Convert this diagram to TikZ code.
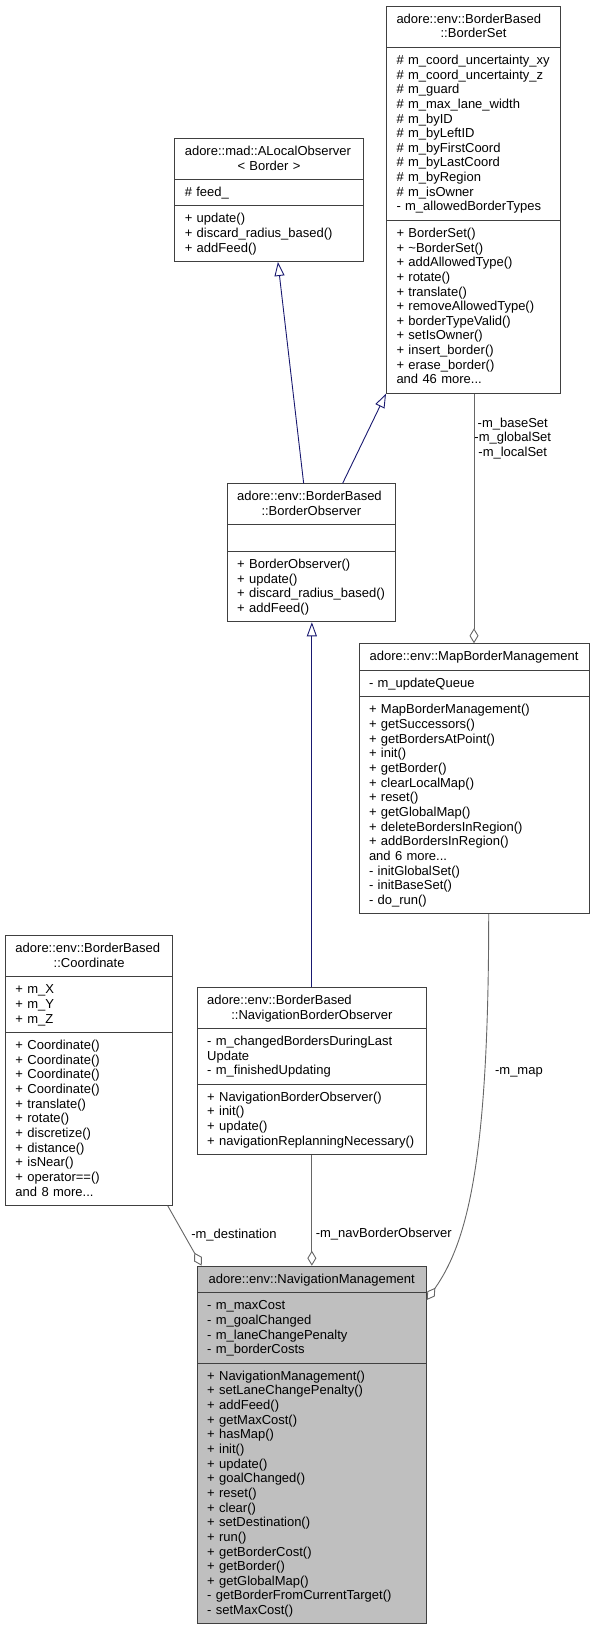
\documentclass[tikz,border=0pt]{standalone}
\usepackage{fontspec}
\setmainfont{Liberation Sans}
\usetikzlibrary{shapes.multipart,arrows.meta}
\definecolor{inhblue}{HTML}{191970}
\definecolor{edgegray}{HTML}{666666}
\definecolor{boxgray}{HTML}{BFBFBF}
\newcommand{\rs}{\rule[-3.4pt]{0pt}{14.65pt}}
\newcommand{\ctr}[1]{\makebox[\linewidth]{#1}}
\begin{document}
\begin{tikzpicture}[x=1pt, y=-1pt,
  classbox/.style={draw=black!75, line width=1pt, rectangle split, rectangle split parts=3,
    anchor=north west, inner xsep=10pt, inner ysep=5.4pt, align=left,
    font=\fontsize{13}{14.65}\selectfont},
  inherit/.style={draw=inhblue, line width=.9pt, -{Triangle[open,length=14pt,width=10pt]}},
  aggr/.style={draw=edgegray, line width=.9pt, -{Diamond[open,length=15pt,width=9pt]}},
  elabel/.style={inner sep=0pt, align=center, font=\fontsize{13}{14.65}\selectfont}]
\useasboundingbox (0,0) rectangle (594,1627);

% classes
\node[classbox, text width=154pt] (bs) at (386,5.7) {\rs adore::env::BorderBased\\\ctr{::BorderSet}\rs
  \nodepart{second}\rs\# m\_coord\_uncertainty\_xy\\\# m\_coord\_uncertainty\_z\\\# m\_guard\\\# m\_max\_lane\_width\\\# m\_byID\\\# m\_byLeftID\\\# m\_byFirstCoord\\\# m\_byLastCoord\\\# m\_byRegion\\\# m\_isOwner\\- m\_allowedBorderTypes\rs
  \nodepart{third}\rs + BorderSet()\\+ \textasciitilde BorderSet()\\+ addAllowedType()\\+ rotate()\\+ translate()\\+ removeAllowedType()\\+ borderTypeValid()\\+ setIsOwner()\\+ insert\_border()\\+ erase\_border()\\and 46 more...\rs};
\node[classbox, text width=168.4pt] (a) at (174.3,137.7) {\rs adore::mad::ALocalObserver\\\ctr{< Border >}\rs
  \nodepart{second}\rs\# feed\_\rs
  \nodepart{third}\rs + update()\\+ discard\_radius\_based()\\+ addFeed()\rs};
\node[classbox, text width=148.3pt] (bo) at (226.7,483.3) {\rs adore::env::BorderBased\\\ctr{::BorderObserver}\rs
  \nodepart{second}\rs
  \nodepart{third}\rs + BorderObserver()\\+ update()\\+ discard\_radius\_based()\\+ addFeed()\rs};
\node[classbox, text width=210pt] (mbm) at (358.5,643.3) {\rs\ctr{adore::env::MapBorderManagement}
  \nodepart{second}\rs - m\_updateQueue\rs
  \nodepart{third}\rs + MapBorderManagement()\\+ getSuccessors()\\+ getBordersAtPoint()\\+ init()\\+ getBorder()\\+ clearLocalMap()\\+ reset()\\+ getGlobalMap()\\+ deleteBordersInRegion()\\+ addBordersInRegion()\\and 6 more...\\- initGlobalSet()\\- initBaseSet()\\- do\_run()\rs};
\node[classbox, text width=147.3pt] (c) at (5,935) {\rs adore::env::BorderBased\\\ctr{::Coordinate}\rs
  \nodepart{second}\rs + m\_X\\+ m\_Y\\+ m\_Z\rs
  \nodepart{third}\rs + Coordinate()\\+ Coordinate()\\+ Coordinate()\\+ Coordinate()\\+ translate()\\+ rotate()\\+ discretize()\\+ distance()\\+ isNear()\\+ operator==()\\and 8 more...\rs};
\node[classbox, text width=209.3pt] (nbo) at (196.7,986.7) {\rs adore::env::BorderBased\\\ctr{::NavigationBorderObserver}\rs
  \nodepart{second}\rs - m\_changedBordersDuringLast\\Update\\- m\_finishedUpdating\rs
  \nodepart{third}\rs + NavigationBorderObserver()\\+ init()\\+ update()\\+ navigationReplanningNecessary()\rs};
\node[classbox, fill=boxgray, text width=209pt] (nm) at (196.7,1265.7) {\rs\ctr{adore::env::NavigationManagement}
  \nodepart{second}\rs - m\_maxCost\\- m\_goalChanged\\- m\_laneChangePenalty\\- m\_borderCosts\rs
  \nodepart{third}\rs + NavigationManagement()\\+ setLaneChangePenalty()\\+ addFeed()\\+ getMaxCost()\\+ hasMap()\\+ init()\\+ update()\\+ goalChanged()\\+ reset()\\+ clear()\\+ setDestination()\\+ run()\\+ getBorderCost()\\+ getBorder()\\+ getGlobalMap()\\- getBorderFromCurrentTarget()\\- setMaxCost()\rs};

% inheritance
\draw[inherit] ([xshift=-7.7pt]bo.north) -- ([xshift=8.9pt]a.south);
\draw[inherit] ([xshift=31.3pt]bo.north) -- (bs.south west);
\draw[inherit] (nbo.north) -- (nbo.north |- bo.south);

% members
\draw[aggr] (mbm.north |- bs.south) -- (mbm.north)
  node[elabel, pos=.179, anchor=west] {-m\_baseSet\\-m\_globalSet\\-m\_localSet};
\draw[aggr] (nbo.south) -- (nbo.south |- nm.north)
  node[elabel, pos=.715, anchor=west, xshift=3.5pt] {-m\_navBorderObserver};
\draw[aggr] ([xshift=78.6pt]c.south) -- ([xshift=5pt]nm.north west)
  node[elabel, pos=.484, anchor=west, xshift=6.7pt] {-m\_destination};
\draw[aggr] ([xshift=14.7pt]mbm.south) .. controls +(0,240) and +(42.3,-60) .. ([yshift=-34.3pt]nm.north east)
  node[elabel, pos=.26, anchor=west, xshift=10pt] {-m\_map};
\end{tikzpicture}
\end{document}
